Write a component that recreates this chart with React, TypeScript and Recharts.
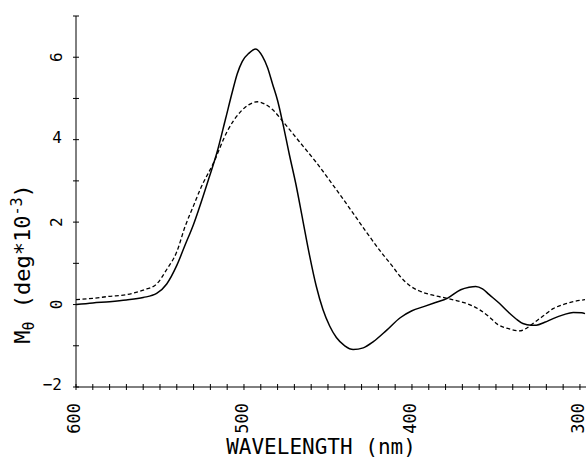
import React from "react";
import { LineChart, Line, XAxis, YAxis } from "recharts";

// Solid curve (wavelength nm, M_theta in deg*10^-3)
const solidWavelength = [600, 590, 580, 570, 560, 552, 546, 540, 535, 530, 527, 521, 516, 511, 507, 504, 501, 497, 493, 489, 486, 483, 480, 477, 473, 469, 465, 461, 457, 453, 449, 445, 440, 435, 429, 423, 415, 407, 400, 393, 386, 379, 371, 366, 362, 358, 354, 348, 343, 338, 334, 329, 326, 321, 316, 310, 304, 299, 297];
const solidValues = [0.0, 0.04, 0.07, 0.11, 0.17, 0.27, 0.5, 0.95, 1.45, 1.95, 2.3, 3.05, 3.7, 4.5, 5.15, 5.6, 5.9, 6.1, 6.2, 6.02, 5.75, 5.35, 4.95, 4.42, 3.64, 2.9, 2.05, 1.2, 0.45, -0.12, -0.52, -0.8, -1.0, -1.09, -1.05, -0.9, -0.62, -0.32, -0.15, -0.05, 0.05, 0.15, 0.36, 0.42, 0.44, 0.38, 0.24, 0.03, -0.17, -0.35, -0.46, -0.5, -0.5, -0.43, -0.34, -0.25, -0.19, -0.2, -0.22];

// Dashed curve
const dashedWavelength = [600, 590, 580, 570, 560, 552, 546, 540, 535, 530, 526, 518, 510, 502, 497, 492, 487, 483, 477, 467, 457, 447, 437, 427, 417, 412, 407, 401, 395, 387, 379, 373, 367, 360, 354, 349, 343, 336, 332, 328, 322, 316, 310, 304, 297];
const dashedValues = [0.12, 0.15, 0.2, 0.24, 0.35, 0.5, 0.85, 1.28, 1.9, 2.4, 2.8, 3.45, 4.2, 4.68, 4.85, 4.92, 4.85, 4.73, 4.45, 3.95, 3.45, 2.9, 2.33, 1.75, 1.2, 0.95, 0.68, 0.45, 0.32, 0.22, 0.15, 0.09, 0.02, -0.12, -0.3, -0.48, -0.58, -0.64, -0.58, -0.46, -0.28, -0.1, 0.0, 0.07, 0.12];

const xTicks = [300, 310, 320, 330, 340, 350, 360, 370, 380, 390, 400, 410, 420, 430, 440, 450, 460, 470, 480, 490, 500, 510, 520, 530, 540, 550, 560, 570, 580, 590, 600];
const xLabeled = [600, 500, 400, 300];
const yTicks = [-2, -1, 0, 1, 2, 3, 4, 5, 6, 7];
const yLabeled = [-2, 0, 2, 4, 6];
const yRotated = [6, 2, 0];

const solidData = solidWavelength.map((w, i) => ({ wl: w, v: solidValues[i] }));
const dashedData = dashedWavelength.map((w, i) => ({ wl: w, v: dashedValues[i] }));

const FONT = "DejaVu Sans Mono";

const XTick = (props: any) => {
  const { x, y, payload } = props;
  const val = payload.value;
  return (
    <g>
      <line x1={x} x2={x} y1={y - 3} y2={y + 3} stroke="#000" strokeWidth={1} />
      {xLabeled.includes(val) && (
        <text
          transform={`translate(${x + 4}, 403) rotate(-90)`}
          textAnchor="end"
          fontFamily={FONT}
          fontSize={17}
          fill="#000"
        >
          {String(val)}
        </text>
      )}
    </g>
  );
};

const YTick = (props: any) => {
  const { x, y, payload } = props;
  const val = payload.value;
  const label = val < 0 ? "\u2212" + Math.abs(val) : String(val);
  return (
    <g>
      <line x1={x - 3} x2={x + 3} y1={y} y2={y} stroke="#000" strokeWidth={1} />
      {yLabeled.includes(val) &&
        (yRotated.includes(val) ? (
          <text
            transform={`translate(62, ${y}) rotate(-90)`}
            textAnchor="middle"
            fontFamily={FONT}
            fontSize={16}
            fill="#000"
          >
            {label}
          </text>
        ) : (
          <text x={62} y={y + 3} textAnchor="end" fontFamily={FONT} fontSize={16} fill="#000">
            {label}
          </text>
        ))}
    </g>
  );
};

export default function App() {
  return (
    <div style={{ position: "absolute", left: 0, top: 0, width: 586, height: 460, background: "#fff" }}>
      <LineChart width={586} height={460} margin={{ top: 16, right: 0, left: 0, bottom: 0 }}>
        <XAxis
          dataKey="wl"
          type="number"
          domain={[296.4, 600]}
          reversed
          allowDataOverflow
          ticks={xTicks}
          interval={0}
          tickLine={false}
          tickSize={0}
          tickMargin={0}
          height={73}
          axisLine={{ stroke: "#000", strokeWidth: 1 }}
          tick={<XTick />}
        />
        <YAxis
          type="number"
          domain={[-2, 7]}
          ticks={yTicks}
          interval={0}
          allowDataOverflow
          tickLine={false}
          tickSize={0}
          tickMargin={0}
          width={76}
          axisLine={{ stroke: "#000", strokeWidth: 1 }}
          tick={<YTick />}
        />
        <Line
          data={dashedData}
          dataKey="v"
          type="monotone"
          stroke="#000"
          strokeWidth={1.3}
          strokeDasharray="4 2.5"
          dot={false}
          isAnimationActive={false}
        />
        <Line
          data={solidData}
          dataKey="v"
          type="monotone"
          stroke="#000"
          strokeWidth={1.5}
          dot={false}
          isAnimationActive={false}
        />
        <text x={321} y={454} textAnchor="middle" fontFamily={FONT} fontSize={21} fill="#000">
          WAVELENGTH (nm)
        </text>
        <text transform="translate(30, 264) rotate(-90)" textAnchor="middle" fontFamily={FONT} fontSize={22} fill="#000">
          M<tspan dy={4} fontSize={15}>θ</tspan>
          <tspan dy={-4}> (deg*10</tspan>
          <tspan dy={-8} fontSize={15}>-3</tspan>
          <tspan dy={8}>)</tspan>
        </text>
      </LineChart>
    </div>
  );
}
